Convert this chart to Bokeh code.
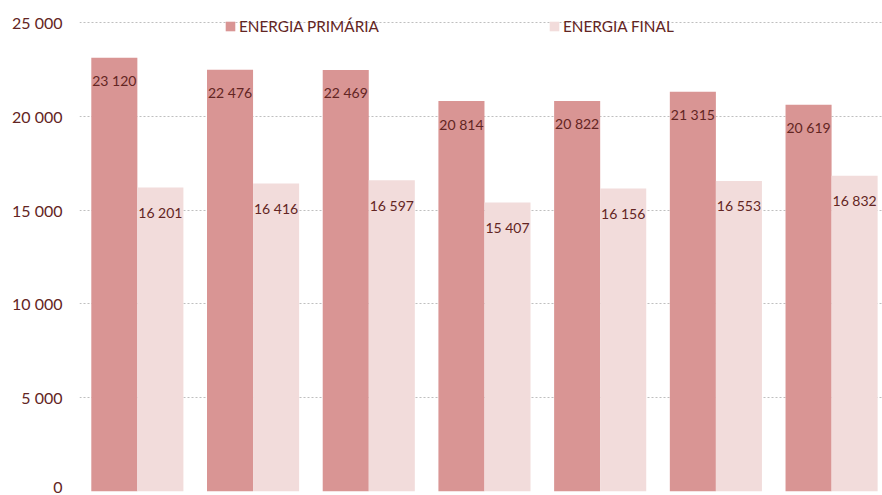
from bokeh.plotting import figure
from bokeh.models import Range1d, ColumnDataSource, Legend, LegendItem, FixedTicker
from bokeh.core.properties import value
from bokeh.transform import dodge
from bokeh.embed import file_html
from bokeh.resources import INLINE

# data
group_index = [0, 1, 2, 3, 4, 5, 6]
energia_primaria = [23120, 22476, 22469, 20814, 20822, 21315, 20619]
energia_final = [16201, 16416, 16597, 15407, 16156, 16553, 16832]
series_names = ["ENERGIA PRIMÁRIA", "ENERGIA FINAL"]
y_ticks = [0, 5000, 10000, 15000, 20000, 25000]
y_tick_labels = ["0", "5 000", "10 000", "15 000", "20 000", "25 000"]

TXT = "#632523"
C_PRIM = "#D99594"
C_FIN = "#F2DCDB"
FONT = "Lato"

def fmt(v):
    return f"{v:,}".replace(",", " ")

src = ColumnDataSource(dict(
    x=group_index,
    prim=energia_primaria,
    fin=energia_final,
    prim_lbl=[fmt(v) for v in energia_primaria],
    fin_lbl=[fmt(v) for v in energia_final],
))

p = figure(width=882, height=495, output_backend="svg", toolbar_location=None,
           x_range=Range1d(-0.5, 6.44), y_range=Range1d(0, 26173),
           min_border_left=79, min_border_right=0, min_border_top=0, min_border_bottom=4)
p.outline_line_color = None
p.background_fill_color = "white"
p.border_fill_color = "white"

r1 = p.vbar(x=dodge("x", -0.199), top="prim", width=0.398, source=src, fill_color=C_PRIM, line_color=None)
r2 = p.vbar(x=dodge("x", 0.199), top="fin", width=0.398, source=src, fill_color=C_FIN, line_color=None)

p.text(x=dodge("x", -0.199), y="prim", text="prim_lbl", source=src, text_align="center",
       text_baseline="middle", y_offset=23, text_font=value(FONT), text_font_size="14px", text_color=TXT)
p.text(x=dodge("x", 0.199), y="fin", text="fin_lbl", source=src, text_align="center",
       text_baseline="middle", y_offset=25, text_font=value(FONT), text_font_size="14px", text_color=TXT)

p.xaxis.visible = False
p.xgrid.visible = False
p.yaxis.ticker = FixedTicker(ticks=y_ticks)
p.yaxis.major_label_overrides = {t: l for t, l in zip(y_ticks, y_tick_labels)}
p.yaxis.axis_line_color = None
p.yaxis.major_tick_line_color = None
p.yaxis.minor_tick_line_color = None
p.yaxis.major_tick_out = 0
p.yaxis.major_tick_in = 0
p.yaxis.major_label_standoff = 17
p.yaxis.major_label_text_font = FONT
p.yaxis.major_label_text_font_size = "16px"
p.yaxis.major_label_text_color = TXT
p.ygrid.grid_line_color = "#BFBFBF"
p.ygrid.grid_line_dash = "2 2"
p.ygrid.grid_line_width = 1

legend = Legend(items=[LegendItem(label=series_names[0], renderers=[r1]),
                       LegendItem(label=series_names[1], renderers=[r2])],
                orientation="horizontal", location=(145, 456), spacing=169,
                padding=0, margin=0, border_line_color=None, background_fill_alpha=0,
                glyph_width=12, glyph_height=12, label_standoff=3, label_height=12,
                label_text_font=FONT, label_text_font_size="15.3px", label_text_color=TXT)
p.add_layout(legend)

open("out.html", "w").write(file_html(p, INLINE))
